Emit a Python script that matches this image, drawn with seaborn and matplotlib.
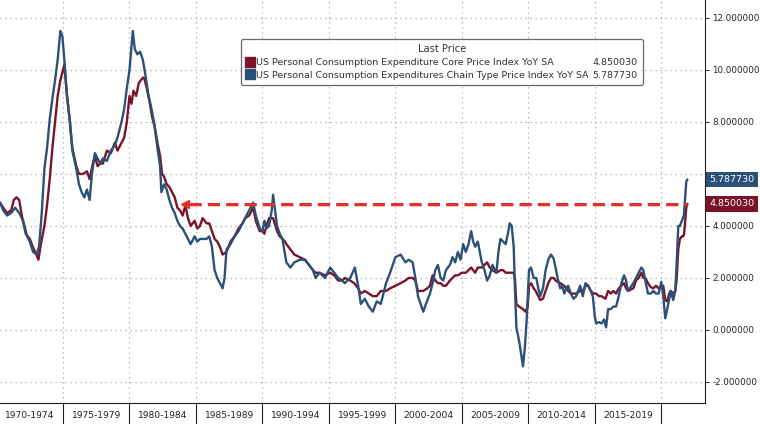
import numpy as np
import pandas as pd
import matplotlib
matplotlib.use("Agg")
import matplotlib.pyplot as plt
import matplotlib.transforms as mtransforms
import matplotlib.patheffects as pe
from matplotlib.lines import Line2D
import seaborn as sns

# core PCE YoY (red)
core_years = [1970.26, 1970.5, 1970.8, 1971.1, 1971.3, 1971.5, 1971.7, 1971.9, 1972.2, 1972.5,
              1972.8, 1973.0, 1973.15, 1973.3, 1973.6, 1973.8, 1974.0, 1974.2, 1974.4, 1974.6,
              1974.8, 1975.0, 1975.1, 1975.3, 1975.5, 1975.7, 1976.0, 1976.2, 1976.5, 1976.8,
              1977.0, 1977.2, 1977.4, 1977.6, 1977.8, 1978.0, 1978.3, 1978.6, 1978.9, 1979.1,
              1979.4, 1979.6, 1979.8, 1980.0, 1980.15, 1980.3, 1980.5, 1980.7, 1981.0, 1981.1,
              1981.3, 1981.5, 1981.7, 1981.9, 1982.1, 1982.3, 1982.45, 1982.6, 1982.8, 1983.0,
              1983.2, 1983.4, 1983.6, 1983.8, 1984.0, 1984.2, 1984.4, 1984.6, 1984.9, 1985.1,
              1985.3, 1985.5, 1985.8, 1986.0, 1986.2, 1986.4, 1986.6, 1986.8, 1987.0, 1987.3,
              1987.6, 1987.9, 1988.2, 1988.5, 1988.7, 1989.0, 1989.3, 1989.5, 1989.8, 1990.0,
              1990.15, 1990.3, 1990.5, 1990.8, 1991.1, 1991.3, 1991.5, 1991.7, 1991.8, 1992.1,
              1992.4, 1992.8, 1993.2, 1993.5, 1993.8, 1994.0, 1994.3, 1994.7, 1995.1, 1995.4,
              1995.7, 1996.0, 1996.2, 1996.6, 1996.9, 1997.2, 1997.4, 1997.7, 1998.0, 1998.3,
              1998.6, 1998.9, 1999.3, 1999.6, 2000.0, 2000.4, 2000.75, 2001.0, 2001.3, 2001.5,
              2001.7, 2002.1, 2002.4, 2002.6, 2002.8, 2003.0, 2003.2, 2003.4, 2003.6, 2003.8,
              2004.1, 2004.3, 2004.5, 2004.7, 2005.0, 2005.3, 2005.5, 2005.7, 2006.0, 2006.2,
              2006.5, 2006.7, 2006.9, 2007.1, 2007.3, 2007.6, 2007.9, 2008.1, 2008.3, 2008.6,
              2008.9, 2009.0, 2009.1, 2009.3, 2009.6, 2009.8, 2009.95, 2010.05, 2010.2, 2010.4,
              2010.55, 2010.75, 2010.9, 2011.1, 2011.3, 2011.5, 2011.7, 2011.9, 2012.05, 2012.2,
              2012.4, 2012.7, 2012.85, 2013.0, 2013.2, 2013.4, 2013.6, 2013.9, 2014.1, 2014.3,
              2014.5, 2014.7, 2014.9, 2015.1, 2015.3, 2015.5, 2015.8, 2016.0, 2016.2, 2016.4,
              2016.6, 2016.8, 2017.0, 2017.2, 2017.35, 2017.5, 2017.7, 2017.9, 2018.1, 2018.3,
              2018.5, 2018.65, 2018.8, 2019.0, 2019.2, 2019.4, 2019.6, 2019.8, 2020.0, 2020.15,
              2020.3, 2020.45, 2020.6, 2020.7, 2020.9, 2021.05, 2021.15, 2021.28, 2021.4, 2021.55,
              2021.65, 2021.72, 2021.8, 2021.88, 2021.96]
core_vals = [4.9, 4.7, 4.5, 4.6, 5.0, 5.1, 5.0, 4.4, 3.7, 3.5,
             3.1, 2.9, 2.7, 3.2, 4.0, 4.8, 5.8, 7.0, 8.0, 9.0,
             9.6, 10.0, 10.2, 9.0, 8.1, 7.0, 6.3, 6.0, 6.0, 6.1,
             5.8, 6.3, 6.7, 6.3, 6.4, 6.4, 6.9, 6.8, 7.2, 6.9,
             7.2, 7.4, 8.0, 9.0, 8.7, 9.2, 9.0, 9.5, 9.7, 9.7,
             9.3, 8.8, 8.2, 7.8, 7.2, 6.7, 6.0, 5.9, 5.6, 5.5,
             5.3, 5.1, 4.7, 4.6, 4.4, 4.8, 4.3, 4.0, 4.2, 3.9,
             4.0, 4.3, 4.1, 4.1, 3.8, 3.5, 3.4, 3.2, 2.9, 3.0,
             3.4, 3.6, 3.9, 4.1, 4.3, 4.4, 4.7, 4.2, 3.8, 3.8,
             3.7, 4.0, 4.3, 4.3, 3.8, 3.6, 3.5, 3.4, 3.3, 3.1,
             2.9, 2.8, 2.7, 2.5, 2.3, 2.2, 2.2, 2.1, 2.2, 2.1,
             1.9, 1.9, 2.0, 1.9, 1.8, 1.6, 1.4, 1.5, 1.4, 1.3,
             1.3, 1.5, 1.5, 1.6, 1.7, 1.8, 1.9, 2.0, 2.0, 1.9,
             1.5, 1.5, 1.6, 1.7, 2.1, 1.9, 1.8, 1.8, 1.7, 1.7,
             1.9, 2.0, 2.1, 2.1, 2.2, 2.2, 2.3, 2.4, 2.2, 2.4,
             2.4, 2.5, 2.6, 2.4, 2.3, 2.2, 2.3, 2.3, 2.2, 2.2,
             2.2, 1.9, 1.0, 0.9, 0.8, 0.7, 0.9, 1.7, 1.8, 1.6,
             1.5, 1.3, 1.15, 1.2, 1.5, 1.8, 2.0, 2.0, 1.9, 1.85,
             1.8, 1.7, 1.6, 1.5, 1.4, 1.4, 1.4, 1.5, 1.5, 1.7,
             1.7, 1.5, 1.4, 1.4, 1.3, 1.3, 1.2, 1.5, 1.4, 1.5,
             1.4, 1.6, 1.7, 1.8, 1.6, 1.5, 1.55, 1.6, 1.9, 2.0,
             2.2, 2.0, 2.0, 1.8, 1.65, 1.6, 1.7, 1.6, 1.7, 1.7,
             1.15, 1.1, 1.4, 1.5, 1.4, 1.5, 1.9, 3.1, 3.5, 3.6,
             3.6, 3.7, 4.2, 4.7, 4.85]

# headline PCE YoY (blue)
pce_years = [1970.26, 1970.5, 1970.8, 1971.1, 1971.4, 1971.7, 1972.0, 1972.3, 1972.5, 1972.75,
             1973.0, 1973.2, 1973.4, 1973.6, 1973.8, 1974.0, 1974.2, 1974.4, 1974.6, 1974.8,
             1974.95, 1975.1, 1975.3, 1975.5, 1975.7, 1976.0, 1976.2, 1976.4, 1976.6, 1976.8,
             1977.0, 1977.2, 1977.4, 1977.6, 1977.8, 1978.0, 1978.3, 1978.6, 1978.9, 1979.1,
             1979.4, 1979.6, 1979.8, 1980.0, 1980.15, 1980.25, 1980.4, 1980.6, 1980.8, 1981.0,
             1981.2, 1981.4, 1981.7, 1981.9, 1982.1, 1982.3, 1982.4, 1982.6, 1982.8, 1983.0,
             1983.2, 1983.4, 1983.6, 1983.8, 1984.0, 1984.2, 1984.4, 1984.6, 1984.9, 1985.1,
             1985.3, 1985.6, 1985.8, 1986.0, 1986.2, 1986.4, 1986.6, 1986.8, 1987.0, 1987.15,
             1987.3, 1987.6, 1987.9, 1988.2, 1988.5, 1988.7, 1989.0, 1989.3, 1989.5, 1989.8,
             1990.0, 1990.15, 1990.3, 1990.5, 1990.7, 1990.8, 1990.95, 1991.1, 1991.3, 1991.5,
             1991.7, 1991.8, 1992.1, 1992.4, 1992.8, 1993.2, 1993.5, 1993.8, 1994.0, 1994.3,
             1994.7, 1995.1, 1995.4, 1995.7, 1996.0, 1996.2, 1996.6, 1996.95, 1997.2, 1997.4,
             1997.7, 1998.0, 1998.3, 1998.6, 1998.9, 1999.3, 1999.6, 2000.0, 2000.4, 2000.75,
             2001.0, 2001.3, 2001.5, 2001.7, 2002.1, 2002.3, 2002.6, 2002.8, 2003.0, 2003.2,
             2003.4, 2003.6, 2003.8, 2004.1, 2004.3, 2004.5, 2004.7, 2004.9, 2005.1, 2005.3,
             2005.5, 2005.7, 2005.85, 2006.0, 2006.2, 2006.5, 2006.7, 2006.9, 2007.1, 2007.3,
             2007.6, 2007.75, 2007.9, 2008.1, 2008.3, 2008.5, 2008.6, 2008.75, 2008.9, 2009.0,
             2009.1, 2009.3, 2009.6, 2009.75, 2009.9, 2010.05, 2010.2, 2010.4, 2010.6, 2010.75,
             2010.9, 2011.1, 2011.3, 2011.5, 2011.7, 2011.9, 2012.05, 2012.2, 2012.4, 2012.55,
             2012.7, 2012.85, 2013.0, 2013.2, 2013.4, 2013.6, 2013.75, 2013.9, 2014.1, 2014.3,
             2014.5, 2014.7, 2014.85, 2015.0, 2015.1, 2015.3, 2015.5, 2015.7, 2015.85, 2016.0,
             2016.2, 2016.4, 2016.6, 2016.8, 2017.0, 2017.2, 2017.35, 2017.5, 2017.7, 2017.9,
             2018.1, 2018.3, 2018.5, 2018.65, 2018.8, 2019.0, 2019.2, 2019.4, 2019.6, 2019.8,
             2020.0, 2020.15, 2020.3, 2020.45, 2020.6, 2020.7, 2020.9, 2021.05, 2021.15, 2021.28,
             2021.4, 2021.55, 2021.7, 2021.8, 2021.88, 2021.96]
pce_vals = [4.9, 4.6, 4.4, 4.5, 4.7, 4.5, 4.2, 3.6, 3.4, 3.0,
            2.9, 3.2, 4.5, 6.2, 7.0, 8.1, 8.9, 9.6, 10.4, 11.5,
            11.3, 10.4, 9.0, 8.1, 6.9, 6.2, 5.6, 5.3, 5.1, 5.4,
            5.0, 6.1, 6.8, 6.6, 6.4, 6.6, 6.5, 6.9, 7.1, 7.4,
            8.0, 8.5, 9.3, 10.0, 10.9, 11.5, 10.8, 10.6, 10.7, 10.4,
            9.8, 9.1, 8.4, 7.8, 7.0, 6.3, 5.3, 5.6, 5.4, 5.0,
            4.7, 4.5, 4.2, 4.0, 3.9, 3.7, 3.5, 3.3, 3.6, 3.4,
            3.5, 3.5, 3.5, 3.6, 3.2, 2.3, 2.0, 1.8, 1.6, 2.0,
            3.1, 3.3, 3.6, 3.8, 4.1, 4.3, 4.6, 4.9, 4.4, 3.9,
            3.8, 4.2, 3.9, 4.0, 4.6, 5.2, 4.6, 4.0, 3.7, 3.5,
            2.9, 2.6, 2.4, 2.6, 2.7, 2.7, 2.5, 2.3, 2.0, 2.2,
            2.0, 2.4, 2.2, 2.0, 1.9, 1.8, 2.0, 2.4, 1.7, 1.0,
            1.2, 0.9, 0.7, 1.1, 1.0, 1.8, 2.2, 2.8, 2.9, 2.6,
            2.7, 2.6, 2.0, 1.3, 0.7, 1.0, 1.4, 1.8, 2.3, 2.5,
            2.0, 1.9, 2.3, 2.5, 2.8, 2.6, 3.0, 2.7, 3.3, 3.0,
            3.3, 3.8, 3.4, 3.2, 3.4, 2.6, 2.3, 1.9, 2.1, 2.5,
            2.2, 3.0, 3.5, 3.4, 3.3, 3.8, 4.1, 4.0, 3.2, 1.5,
            0.1, -0.4, -1.4, -0.6, 0.6, 2.3, 2.4, 2.0, 2.0, 1.6,
            1.3, 1.6, 2.3, 2.7, 2.9, 2.75, 2.4, 2.0, 1.6, 1.7,
            1.4, 1.6, 1.7, 1.4, 1.2, 1.3, 1.5, 1.7, 1.3, 1.8,
            1.7, 1.5, 1.3, 0.5, 0.25, 0.3, 0.25, 0.4, 0.1, 0.8,
            0.8, 0.9, 0.9, 1.3, 1.8, 2.1, 1.9, 1.5, 1.65, 1.8,
            2.0, 2.2, 2.4, 2.3, 1.9, 1.4, 1.4, 1.5, 1.4, 1.4,
            1.85, 1.3, 0.45, 0.8, 1.2, 1.5, 1.15, 1.5, 2.5, 4.0,
            4.0, 4.2, 4.4, 5.1, 5.7, 5.79]

core_name = "US Personal Consumption Expenditure Core Price Index YoY SA"
pce_name = "US Personal Consumption Expenditures Chain Type Price Index YoY SA"
core_last = "4.850030"
pce_last = "5.787730"

period_starts = [1975, 1980, 1985, 1990, 1995, 2000, 2005, 2010, 2015, 2020]
period_labels = ["1970-1974", "1975-1979", "1980-1984", "1985-1989", "1990-1994",
                 "1995-1999", "2000-2004", "2005-2009", "2010-2014", "2015-2019"]
y_ticks = [-2, 0, 2, 4, 6, 8, 10, 12]
hidden_ytick = 6  # sits under the last-value tags
arrow_from = 1984.2

RED = "#7b1426"
BLUE = "#2c5179"

sns.set_style("white")
plt.rcParams["font.family"] = ["DejaVu Sans"]

core_df = pd.DataFrame({"year": core_years, "value": core_vals})
pce_df = pd.DataFrame({"year": pce_years, "value": pce_vals})

fig = plt.figure(figsize=(7.6, 4.24), dpi=100)
ax = fig.add_axes([0, 0.0495, 0.928, 0.9505])

sns.lineplot(data=core_df, x="year", y="value", ax=ax, color=RED, lw=1.7)
sns.lineplot(data=pce_df, x="year", y="value", ax=ax, color=BLUE, lw=1.7)

ax.set_xlim(1970.26, 2023.31)
ax.set_ylim(-2.81, 12.69)
ax.set_xlabel("")
ax.set_ylabel("")

# grid
for yv in y_ticks:
    ax.axhline(yv, color="#a8a8a8", lw=0.9, ls=(0, (1, 3)), zorder=0)
for xv in period_starts:
    ax.axvline(xv, color="#a8a8a8", lw=0.9, ls=(0, (1, 3)), zorder=0)

# x axis: yearly ticks, period labels in between separators
mids = [s - 2.5 for s in period_starts]
ax.set_xticks(mids, period_labels)
ax.set_xticks(np.arange(1971, 2024), minor=True)
ax.tick_params(axis="x", which="major", length=0, pad=6, labelsize=6.6, labelcolor="#222222")
ax.tick_params(axis="x", which="minor", length=3.5, width=0.7, direction="out", color="#222222")
ax.vlines(period_starts, -0.06, 0, transform=ax.get_xaxis_transform(),
          color="#222222", lw=0.8, clip_on=False)

# y axis on right
ax.yaxis.tick_right()
ax.set_yticks(y_ticks, ["" if v == hidden_ytick else f"{v:.6f}" for v in y_ticks])
ax.tick_params(axis="y", length=3, width=0.7, pad=2, labelsize=6.3, labelcolor="#222222",
               color="#222222")

for side in ["top", "left"]:
    ax.spines[side].set_visible(False)
for side in ["bottom", "right"]:
    ax.spines[side].set_color("#222222")
    ax.spines[side].set_linewidth(0.8)

# dashed red arrow at latest core level
lvl = core_vals[-1]
ax.plot([arrow_from + 0.25, core_years[-1]], [lvl, lvl], color="#e3312e", lw=2.2,
        ls=(0, (4, 2)), zorder=5,
        path_effects=[pe.SimpleLineShadow(offset=(0.5, -1), shadow_color="#e3312e", alpha=0.25),
                      pe.Normal()])
ax.plot([arrow_from], [lvl], marker="<", markersize=6, color="#e3312e", zorder=5)

# last value tags
trans = mtransforms.blended_transform_factory(ax.transAxes, ax.transData)
ax.text(1.006, pce_vals[-1], pce_last, transform=trans, ha="left", va="center",
        color="white", fontsize=6.8, zorder=10,
        bbox=dict(boxstyle="square,pad=0.35", fc=BLUE, ec="none"))
ax.text(1.006, core_vals[-1], core_last, transform=trans, ha="left", va="center",
        color="white", fontsize=6.8, zorder=10,
        bbox=dict(boxstyle="square,pad=0.35", fc=RED, ec="none"))

# legend
handles = [Line2D([], [], ls="", marker="s", markersize=6.5, color=RED),
           Line2D([], [], ls="", marker="s", markersize=6.5, color=BLUE),
           Line2D([], [], ls="", marker=""),
           Line2D([], [], ls="", marker="")]
labels = [core_name, pce_name, core_last, pce_last]
leg = ax.legend(handles, labels, ncol=2, title="Last Price", loc="upper right",
                bbox_to_anchor=(0.918, 0.915), fontsize=6.8, title_fontsize=7.2,
                handlelength=0.7, handletextpad=0.3, columnspacing=-0.6,
                labelspacing=0.4, borderpad=0.55, frameon=True, fancybox=True)
leg.get_frame().set_edgecolor("#444444")
leg.get_frame().set_linewidth(0.9)
for t in leg.get_texts():
    t.set_color("#333333")
leg.get_title().set_color("#333333")

fig.savefig("out.png", dpi=100, facecolor="white")
